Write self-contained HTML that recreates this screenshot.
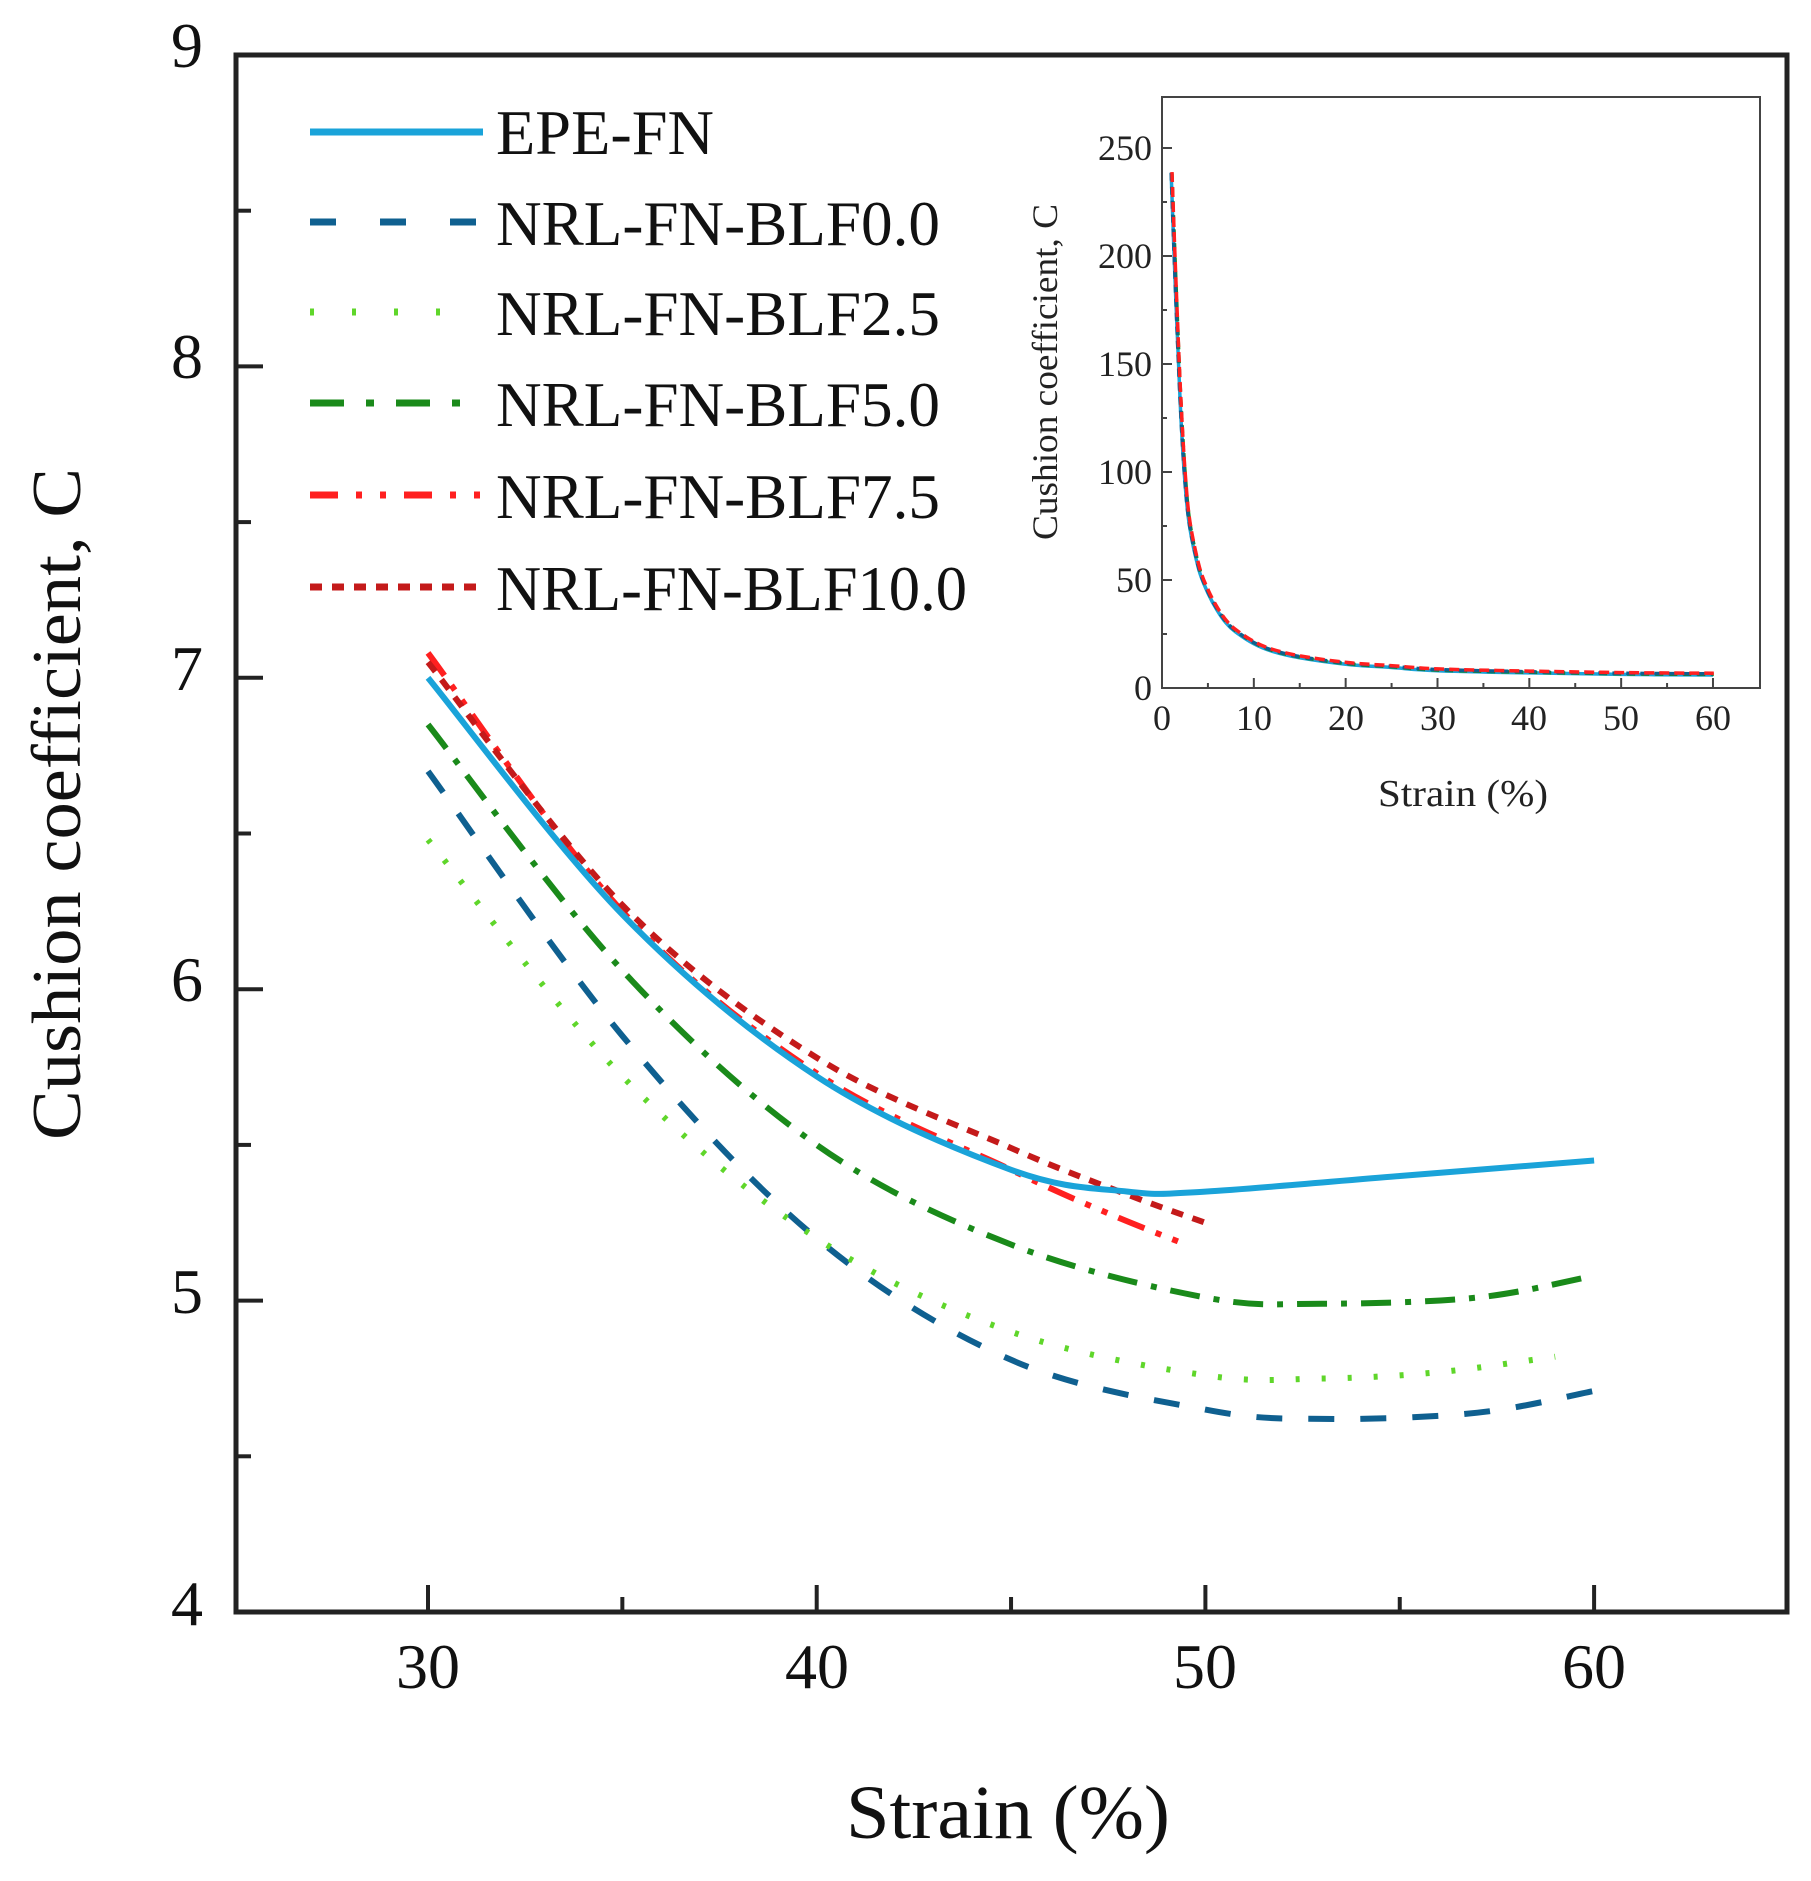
<!DOCTYPE html>
<html><head><meta charset="utf-8"><style>
html,body{margin:0;padding:0;background:#fff;}
svg{display:block;font-family:"Liberation Serif",serif;}
</style></head><body>
<svg id="s" width="1811" height="1881" viewBox="0 0 1811 1881" xmlns="http://www.w3.org/2000/svg">
<rect x="0" y="0" width="1811" height="1881" fill="#fff"/>
<g id="main"></g>
<rect x="236" y="55" width="1551" height="1557" fill="none" stroke="#222" stroke-width="5"/>
<g font-size="64" fill="#111" text-anchor="middle">
<text x="187" y="67">9</text><text x="187" y="378">8</text><text x="187" y="690">7</text>
<text x="187" y="1001">6</text><text x="187" y="1313">5</text><text x="187" y="1625">4</text>
<text x="428" y="1688">30</text><text x="817" y="1688">40</text><text x="1205" y="1688">50</text><text x="1594" y="1688">60</text>
</g>
<text transform="translate(80,804) rotate(-90)" font-size="70" text-anchor="middle" textLength="672" lengthAdjust="spacingAndGlyphs" fill="#111">Cushion coefficient, C</text>
<text x="1008" y="1838" font-size="76" text-anchor="middle" textLength="324" lengthAdjust="spacingAndGlyphs" fill="#111">Strain (%)</text>
<g font-size="64" fill="#111">
<text x="496" y="154" textLength="218" lengthAdjust="spacingAndGlyphs">EPE-FN</text>
<text x="496" y="245" textLength="444" lengthAdjust="spacingAndGlyphs">NRL-FN-BLF0.0</text>
<text x="496" y="335" textLength="444" lengthAdjust="spacingAndGlyphs">NRL-FN-BLF2.5</text>
<text x="496" y="426" textLength="444" lengthAdjust="spacingAndGlyphs">NRL-FN-BLF5.0</text>
<text x="496" y="518" textLength="444" lengthAdjust="spacingAndGlyphs">NRL-FN-BLF7.5</text>
<text x="496" y="610" textLength="471" lengthAdjust="spacingAndGlyphs">NRL-FN-BLF10.0</text>
</g>
<g id="leg" stroke-width="7" fill="none"></g>
<!-- inset -->
<g id="ins"></g>
<rect x="1162" y="97" width="598" height="591" fill="none" stroke="#444" stroke-width="2"/>
<g font-size="36" fill="#222" text-anchor="end">
<text x="1152" y="160">250</text><text x="1152" y="268">200</text><text x="1152" y="376">150</text>
<text x="1152" y="484">100</text><text x="1152" y="592">50</text><text x="1152" y="700">0</text>
</g>
<g font-size="36" fill="#222" text-anchor="middle">
<text x="1162" y="730">0</text><text x="1254" y="730">10</text><text x="1346" y="730">20</text><text x="1438" y="730">30</text>
<text x="1529" y="730">40</text><text x="1621" y="730">50</text><text x="1713" y="730">60</text>
</g>
<text x="1463" y="806" font-size="38" fill="#222" text-anchor="middle" textLength="170" lengthAdjust="spacingAndGlyphs">Strain (%)</text>
<text transform="translate(1057,372) rotate(-90)" font-size="36" fill="#222" text-anchor="middle" textLength="336" lengthAdjust="spacingAndGlyphs">Cushion coefficient, C</text>
</svg>
<script>
const NS="http://www.w3.org/2000/svg";
function el(p,t,a){const e=document.createElementNS(NS,t);for(const k in a)e.setAttribute(k,a[k]);p.appendChild(e);return e;}
const X=v=>428+(v-30)*38.87, Y=v=>1612-(v-4)*311.4;
function smooth(pts){let d="M"+pts[0][0]+","+pts[0][1];
 for(let i=0;i<pts.length-1;i++){const p0=pts[Math.max(0,i-1)],p1=pts[i],p2=pts[i+1],p3=pts[Math.min(pts.length-1,i+2)];
 const c1=[p1[0]+(p2[0]-p0[0])/6,p1[1]+(p2[1]-p0[1])/6],c2=[p2[0]-(p3[0]-p1[0])/6,p2[1]-(p3[1]-p1[1])/6];
 d+=" C"+c1[0].toFixed(1)+","+c1[1].toFixed(1)+" "+c2[0].toFixed(1)+","+c2[1].toFixed(1)+" "+p2[0].toFixed(1)+","+p2[1].toFixed(1);}return d;}
const m=document.getElementById("main");
// ticks
[5,6,7,8].forEach(v=>el(m,"line",{x1:236,x2:263,y1:Y(v),y2:Y(v),stroke:"#222","stroke-width":4}));
[4.5,5.5,6.5,7.5,8.5].forEach(v=>el(m,"line",{x1:236,x2:251,y1:Y(v),y2:Y(v),stroke:"#222","stroke-width":4}));
[30,40,50,60].forEach(v=>el(m,"line",{x1:X(v),x2:X(v),y1:1612,y2:1585,stroke:"#222","stroke-width":4}));
[35,45,55].forEach(v=>el(m,"line",{x1:X(v),x2:X(v),y1:1612,y2:1597,stroke:"#222","stroke-width":4}));
const S=[
 {c:"#0f6090",d:"26 26",p:[[30,6.7],[35,5.85],[40,5.2],[45,4.81],[50,4.65],[53,4.62],[57,4.64],[60,4.71]]},
 {c:"#5fd62a",d:"4 22",p:[[30,6.48],[35,5.72],[40,5.2],[45,4.9],[50,4.76],[53,4.75],[56,4.77],[59,4.82]]},
 {c:"#1a8a1a",d:"30 14 6 14",p:[[30,6.85],[35,6.06],[40,5.5],[45,5.18],[50,5.01],[53,4.99],[57,5.01],[60,5.08]]},
 {c:"#ff2020",d:"28 12 6 12 6 12",p:[[30,7.08],[35,6.25],[40,5.73],[45,5.42],[47.5,5.28],[49.5,5.18]]},
 {c:"#c41a1a",d:"12 10",p:[[30,7.05],[35,6.27],[40,5.78],[45,5.49],[48,5.34],[50,5.25]]},
 {c:"#1aa3d9",d:"none",p:[[30,7.0],[35,6.24],[40,5.72],[45,5.42],[48,5.35],[50,5.35],[55,5.4],[60,5.45]]}
];
S.forEach(s=>el(m,"path",{d:smooth(s.p.map(q=>[X(q[0]),Y(q[1])])),fill:"none",stroke:s.c,"stroke-width":6,"stroke-dasharray":s.d,"stroke-linecap":"butt"}));
// legend
const L=document.getElementById("leg");
const ly=[132,222,312,403,495,587],lc=["#1aa3d9","#0f6090","#5fd62a","#1a8a1a","#ff2020","#c41a1a"],
ld=["none","26 44","4 38","34 22 8 22","28 18 6 18 6 18","12 10"],le=[483,483,445,470,483,483];
ly.forEach((y,i)=>el(L,"line",{x1:310,x2:le[i],y1:y,y2:y,stroke:lc[i],"stroke-dasharray":ld[i]}));
// inset
const I=document.getElementById("ins");
const IX=v=>1162+v*9.183, IY=v=>688-v*2.16;
[50,100,150,200,250].forEach(v=>el(I,"line",{x1:1162,x2:1172,y1:IY(v),y2:IY(v),stroke:"#444","stroke-width":2}));
[25,75,125,175,225].forEach(v=>el(I,"line",{x1:1162,x2:1167,y1:IY(v),y2:IY(v),stroke:"#444","stroke-width":2}));
[10,20,30,40,50,60].forEach(v=>el(I,"line",{x1:IX(v),x2:IX(v),y1:688,y2:678,stroke:"#444","stroke-width":2}));
[5,15,25,35,45,55].forEach(v=>el(I,"line",{x1:IX(v),x2:IX(v),y1:688,y2:683,stroke:"#444","stroke-width":2}));
const ip=[[1,238],[1.5,180],[2,130],[2.5,95],[3,75],[4,55],[5,44],[6,36],[7,30],[8,26],[10,20.5],[12,17],[15,14],[20,11],[25,9.5],[30,8],[40,7],[50,6.3],[60,6]];
["#1aa3d9","#1a8a1a","#0f6090","#ff2020"].forEach((c,k)=>{
 el(I,"path",{d:smooth(ip.map(q=>[IX(q[0])+(k%2)*0.8,IY(q[1])-k*0.6])),fill:"none",stroke:c,"stroke-width":3.5,"stroke-dasharray":k==0?"none":(k==3?"10 5":"8 6")});
});
</script>
</body></html>
